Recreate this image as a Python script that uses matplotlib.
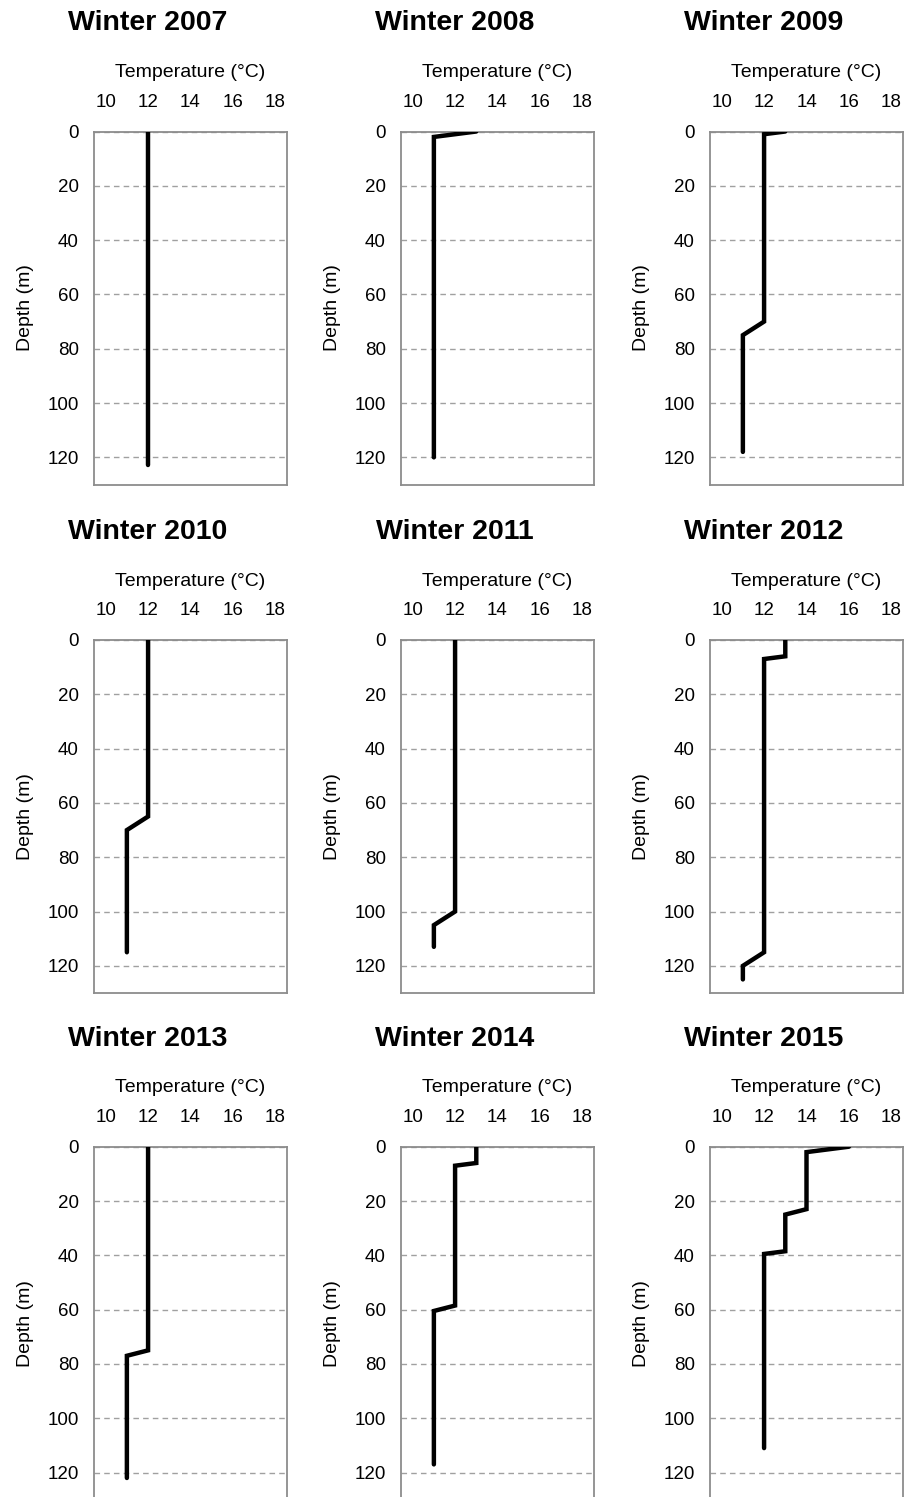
import matplotlib
matplotlib.use("Agg")
import matplotlib.pyplot as plt

plt.rcParams['font.family'] = ['Liberation Sans', 'DejaVu Sans']

years = [2007, 2008, 2009, 2010, 2011, 2012, 2013, 2014, 2015]

# temperature (degC) and depth (m) per winter profile
temp_2007 = [12, 12]
depth_2007 = [0, 123]
temp_2008 = [13, 11, 11]
depth_2008 = [0, 2, 120]
temp_2009 = [13, 12, 12, 11, 11]
depth_2009 = [0, 1, 70, 75, 118]
temp_2010 = [12, 12, 11, 11]
depth_2010 = [0, 65, 70, 115]
temp_2011 = [12, 12, 11, 11]
depth_2011 = [0, 100, 105, 113]
temp_2012 = [13, 13, 12, 12, 11, 11]
depth_2012 = [0, 6, 7, 115, 120, 125]
temp_2013 = [12, 12, 11, 11]
depth_2013 = [0, 75, 77, 122]
temp_2014 = [13, 13, 12, 12, 11, 11]
depth_2014 = [0, 6, 7, 58.5, 60.5, 117]
temp_2015 = [16, 14, 14, 13, 13, 12, 12]
depth_2015 = [0, 2, 23, 25, 38.5, 39.5, 111]

temps = [temp_2007, temp_2008, temp_2009, temp_2010, temp_2011,
         temp_2012, temp_2013, temp_2014, temp_2015]
depths = [depth_2007, depth_2008, depth_2009, depth_2010, depth_2011,
          depth_2012, depth_2013, depth_2014, depth_2015]

x_ticks = [10, 12, 14, 16, 18]
y_ticks = [0, 20, 40, 60, 80, 100, 120]

W, H = 916, 1497
fig = plt.figure(figsize=(W / 100, H / 100), dpi=100)

col_left = [94, 401, 710]
row_top = [131.5, 640, 1146.7]
ax_w, ax_h = 193, 353

for i, yr in enumerate(years):
    r, c = divmod(i, 3)
    left = col_left[c]
    top = row_top[r]
    ax = fig.add_axes([left / W, 1 - (top + ax_h) / H, ax_w / W, ax_h / H])

    ax.plot(temps[i], depths[i], color='black', lw=3.2, solid_capstyle='round',
            solid_joinstyle='miter', zorder=3)

    ax.set_xlim(9.45, 18.55)
    ax.set_ylim(130, 0)
    ax.set_xticks(x_ticks)
    ax.set_yticks(y_ticks)
    ax.xaxis.tick_top()
    ax.xaxis.set_label_position('top')
    ax.tick_params(axis='x', length=0, pad=15, labelsize=13.5)
    ax.tick_params(axis='y', length=0, pad=11, labelsize=13.5)
    ax.set_xlabel('Temperature (°C)', fontsize=14, labelpad=12)
    ax.set_ylabel('Depth (m)', fontsize=14)
    ax.yaxis.set_label_coords(-60 / ax_w, 0.5)

    ax.yaxis.grid(True, linestyle=(0, (4, 3)), color='#a0a0a0', lw=1)
    ax.set_axisbelow(True)
    for s in ax.spines.values():
        s.set_color('#8c8c8c')
        s.set_linewidth(1.3)

    fig.text((left + 54) / W, 1 - (top - 108) / H, 'Winter %d' % yr,
             fontsize=20.5, fontweight='bold', ha='center', va='center')

fig.savefig('out.png', dpi=100)
